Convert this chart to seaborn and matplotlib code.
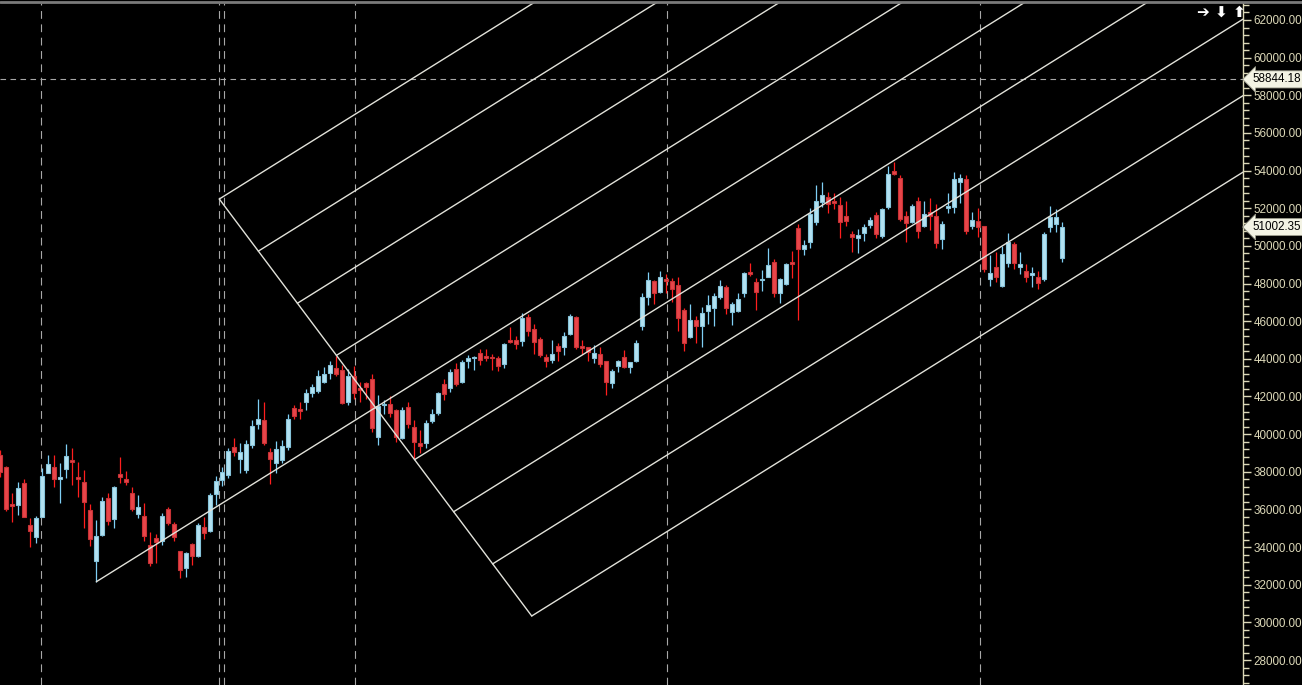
import numpy as np
import pandas as pd
import matplotlib
matplotlib.use('Agg')
import matplotlib.pyplot as plt
import matplotlib.transforms as mtransforms
from matplotlib.lines import Line2D
from matplotlib.ticker import MultipleLocator, FormatStrFormatter
import seaborn as sns

# ---------------- data ----------------
opens = [38890, 38270, 36290, 36240, 37420, 35170, 34550, 35620, 37950, 38240,
         37630, 38130, 38630, 37710, 37470, 35970, 33280, 34640, 36620, 35490,
         37880, 37620, 36890, 35760, 35650, 34110, 34500, 34340, 36020, 35230,
         33790, 32870, 34150, 33540, 35050, 34870, 36800, 37560, 37830, 39320,
         38680, 38100, 39420, 40560, 40750, 39040, 38450, 38630, 39300, 41370,
         41340, 41720, 42200, 42310, 42750, 43260, 43530, 43410, 41720, 43090,
         42470, 42700, 42910, 39860, 41530, 41590, 41280, 39810, 41430, 40360,
         39510, 39510, 40720, 41140, 42660, 42430, 43460, 42790, 43910, 44020,
         44330, 44150, 44100, 44030, 43730, 45000, 45000, 44960, 46220, 45570,
         45050, 44110, 43940, 44680, 44640, 45320, 46220, 44680, 44610, 44060,
         44260, 43890, 42730, 43640, 44080, 43580, 43910, 45740, 47270, 48140,
         47570, 48240, 48140, 47920, 46600, 45180, 46070, 45720, 46560, 46690,
         47300, 47800, 46470, 46560, 47490, 48610, 48070, 48170, 48360, 49160,
         47490, 47960, 49130, 50970, 49820, 50220, 51290, 52350, 52580, 52400,
         52170, 51590, 50630, 50440, 50700, 51110, 51640, 50530, 52050, 53980,
         53590, 51590, 51290, 52390, 51060, 51780, 51590, 50350, 52030, 52080,
         53410, 53540, 51070, 51320, 51060, 48240, 48860, 47870, 49110, 50100,
         48900, 48670, 48450, 48330, 48230, 50990, 51160, 49340]
highs = [39160, 38310, 36860, 37470, 37620, 35530, 35650, 38190, 38890, 38890,
         38480, 39480, 39250, 38500, 38100, 36290, 35440, 36640, 36890, 37250,
         38800, 38040, 37210, 36770, 36330, 34820, 34700, 35800, 36150, 35350,
         33800, 33720, 34230, 35270, 35580, 36890, 37780, 38270, 39250, 39810,
         39550, 39690, 40750, 41850, 41720, 39280, 39640, 39690, 41070, 41550,
         41720, 42380, 42660, 43410, 43550, 43890, 44170, 43670, 43450, 43620,
         42750, 42750, 43200, 42080, 41810, 42030, 41320, 41430, 41720, 40750,
         40220, 40750, 41320, 42260, 42910, 43450, 43760, 43940, 44200, 44150,
         44510, 44510, 44260, 44150, 44860, 45710, 45210, 46420, 46390, 45850,
         45140, 44260, 45000, 44860, 45430, 46390, 46280, 45000, 44620, 44740,
         44610, 43900, 43460, 43940, 44470, 43850, 45000, 47500, 48630, 48190,
         48670, 48510, 48280, 48330, 46690, 46900, 46270, 46770, 47390, 47510,
         48190, 47920, 47000, 47510, 48600, 49080, 48280, 48720, 49890, 49290,
         48280, 49080, 49730, 51160, 50310, 52000, 53240, 53380, 52880, 52790,
         52580, 52390, 50790, 50900, 51160, 51550, 51820, 52000, 54220, 54470,
         53770, 51850, 52210, 52580, 52390, 52530, 52210, 51320, 52790, 53910,
         53820, 53770, 51800, 52000, 51070, 49540, 49690, 49990, 50670, 50220,
         49690, 49020, 48860, 48670, 50750, 52120, 51940, 51290]
lows = [37740, 35920, 35350, 35710, 35580, 34020, 34230, 35580, 37920, 37210,
        36360, 37650, 37300, 36680, 35000, 34070, 32160, 34590, 35170, 35030,
        37390, 37300, 35920, 35530, 34340, 33010, 33170, 34110, 35170, 34320,
        32340, 32430, 33050, 33490, 34430, 34780, 36240, 37250, 37690, 38860,
        37950, 37950, 39280, 40260, 39420, 37350, 37950, 38450, 39160, 40800,
        40790, 41280, 41990, 42170, 42700, 42950, 43090, 41600, 41550, 41870,
        41720, 41870, 40110, 39420, 41070, 40900, 39600, 39730, 40310, 38660,
        38980, 39280, 40580, 41020, 41810, 42260, 42560, 42720, 43500, 43410,
        43670, 43910, 43410, 43370, 43530, 44830, 44520, 44700, 45210, 44260,
        44080, 43580, 43800, 43910, 44200, 45270, 44520, 44260, 43910, 43800,
        43580, 42080, 42440, 43320, 43500, 43260, 43830, 45530, 46860, 46910,
        47480, 47510, 47030, 45500, 44430, 45090, 44860, 44640, 45850, 45720,
        47180, 46360, 45800, 46500, 47300, 48400, 46600, 47620, 48330, 47300,
        46980, 47920, 48310, 46060, 49520, 49900, 51110, 52050, 51760, 51940,
        50440, 51060, 49690, 49640, 50280, 50970, 50440, 50440, 51940, 53770,
        51320, 50220, 51200, 50400, 50990, 50840, 49900, 49820, 51760, 51730,
        52300, 50620, 50910, 50470, 48630, 47890, 48100, 47800, 48900, 48760,
        48510, 48100, 47830, 47710, 48150, 50750, 50750, 49160]
closes = [38010, 36020, 36200, 37120, 35620, 34870, 35530, 37780, 38410, 37600,
          37720, 38840, 38540, 37600, 36410, 34410, 34590, 36460, 35400, 37210,
          37740, 37470, 36020, 36130, 34590, 33140, 34290, 35650, 35300, 34520,
          32780, 33670, 33540, 35160, 34730, 36770, 37510, 37970, 39100, 39040,
          39040, 39460, 40410, 40790, 39550, 38660, 39210, 39370, 40800, 40980,
          41250, 42200, 42490, 43100, 43200, 43670, 43200, 41670, 43080, 42200,
          42340, 42520, 40340, 41510, 41600, 41140, 39860, 41270, 40520, 39600,
          39390, 40610, 41050, 42170, 42150, 43320, 42660, 43830, 44040, 44110,
          43940, 44070, 44040, 43640, 44790, 44900, 44790, 46180, 45500, 44910,
          44200, 43910, 44260, 44420, 45210, 46280, 44640, 44590, 44380, 44330,
          43730, 42790, 43370, 43890, 43580, 43820, 44830, 47270, 48190, 47510,
          48330, 48150, 47710, 46160, 44860, 46070, 45720, 46420, 46860, 47340,
          47870, 46690, 46910, 47160, 48540, 48510, 47570, 48250, 48990, 47490,
          48230, 49020, 49020, 49820, 50050, 51680, 52390, 52700, 52230, 52300,
          51290, 51340, 50490, 50580, 50990, 51380, 50620, 51940, 53820, 53820,
          51430, 51200, 52120, 50810, 51690, 51590, 50170, 51160, 52120, 53540,
          53590, 50770, 51380, 51020, 48750, 48540, 48360, 49570, 50190, 49110,
          49040, 48360, 48540, 48050, 50630, 51550, 51520, 51002.35]

y_ticks = list(range(28000, 62001, 2000))
separator_bars = [6.78, 36.45, 37.28, 59.12, 111.1, 163.28]
marked_price = 58844.18
last_price = 51002.35
fork_pivot = (16.0, 32160.0)
fork_b = (36.5, 52490.0)
fork_c = (88.57, 30340.0)
fork_divisions = 8

# ---------------- style ----------------
sns.set_theme(style='dark', rc={'axes.facecolor': 'black',
                                'figure.facecolor': 'black',
                                'axes.grid': False})
plt.rcParams['font.family'] = ['Liberation Sans', 'DejaVu Sans']

W, H = 1302, 685
fig = plt.figure(figsize=(W / 100, H / 100), dpi=100)
ax = fig.add_axes([0, 0, 1243 / W, 682 / H])
ax.set_facecolor('black')

df = pd.DataFrame({'open': opens, 'high': highs, 'low': lows, 'close': closes})
df['x'] = np.arange(len(df))
up = df['close'] >= df['open']

up_fill, up_edge, up_wick = '#b3e2f2', '#86c3da', '#7fcff5'
dn_fill, dn_edge, dn_wick = '#e8464a', '#c93236', '#ff1e1e'

# wicks
ax.vlines(df['x'][up], df['low'][up], df['high'][up], color=up_wick, lw=0.9, zorder=3)
ax.vlines(df['x'][~up], df['low'][~up], df['high'][~up], color=dn_wick, lw=0.9, zorder=3)
# bodies
body_lo = np.minimum(df['open'], df['close'])
body_h = np.abs(df['close'] - df['open'])
ax.bar(df['x'][up], body_h[up], bottom=body_lo[up], width=0.68,
       color=up_fill, edgecolor=up_edge, linewidth=0.8, zorder=4)
ax.bar(df['x'][~up], body_h[~up], bottom=body_lo[~up], width=0.68,
       color=dn_fill, edgecolor=dn_edge, linewidth=0.8, zorder=4)

# separators and marked price line
for xb in separator_bars:
    ax.axvline(xb, color='#a8a8a8', lw=0.8, ls=(0, (7, 5)), zorder=1)
ax.axhline(marked_price, color='#a8a8a8', lw=0.8, ls=(0, (5, 4)), zorder=1)

# pitchfork
line_col = '#e2e2da'
A = np.array(fork_pivot)
B = np.array(fork_b)
C = np.array(fork_c)
M = (B + C) / 2
d = M - A
ax.plot([B[0], C[0]], [B[1], C[1]], color=line_col, lw=1.0, zorder=5)
for k in range(fork_divisions + 1):
    start = A if k == fork_divisions // 2 else B + (C - B) * k / fork_divisions
    end = start + d * 10
    ax.plot([start[0], end[0]], [start[1], end[1]], color=line_col, lw=1.0, zorder=5)

# axes limits (bar i centred at pixel 6*i)
ax.set_xlim(-0.05, -0.05 + 1243 / 6)
ax.set_ylim(26675, 62902)

# right price axis
ax.yaxis.tick_right()
ax.set_yticks(y_ticks)
ax.yaxis.set_major_formatter(FormatStrFormatter('%.2f'))
ax.yaxis.set_minor_locator(MultipleLocator(400))
ax_col = '#dcd8b8'
ax.tick_params(axis='y', which='major', direction='out', length=6, width=1,
               color=ax_col, labelcolor=ax_col, labelsize=8.4, pad=1.5)
ax.tick_params(axis='y', which='minor', direction='out', length=4, width=1,
               color=ax_col)
ax.tick_params(axis='x', bottom=False, labelbottom=False)
for s in ['top', 'left', 'bottom']:
    ax.spines[s].set_visible(False)
ax.spines['right'].set_color(ax_col)
ax.spines['right'].set_linewidth(1.0)

# price tags
trans = mtransforms.blended_transform_factory(ax.transAxes, ax.transData)
for p in [marked_price, last_price]:
    ax.text(1.0 + 9 / 1243, p, f'{p:.2f}', transform=trans, ha='left', va='center',
            fontsize=8.4, color='black', zorder=10, clip_on=False,
            bbox=dict(boxstyle='larrow,pad=0.22', fc='#f3f3e4', ec='#9a9a8a', lw=0.6))

# top frame line and navigation arrows
fig.add_artist(Line2D([0, 1], [1 - 1.5 / H, 1 - 1.5 / H], transform=fig.transFigure,
                      color='#7a7a7a', lw=2))
fig.text(1197 / W, 1 - 12 / H, '\u2794 \u2b07 \u2b06', color='white', fontsize=11,
         fontweight='bold', va='center', ha='left', family=['DejaVu Sans'])

fig.savefig('out.png', dpi=100, facecolor='black')
